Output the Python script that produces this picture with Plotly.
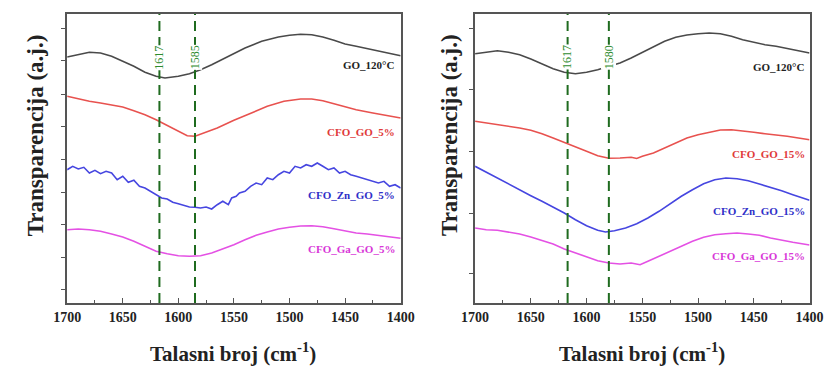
import plotly.graph_objects as go

# ---------------- data (arbitrary transmittance units) ----------------
# Left panel (5%)
L_go_x = [1700,1690,1680,1670,1660,1650,1640,1630,1620,1612,1600,1590,1580,1570,1560,1550,1540,1525,1510,1500,1490,1480,1470,1460,1450,1440,1425,1410,1400]
L_go_y = [246,248.3,250.7,250,246.7,241.7,236.7,230.7,226.7,225,226.7,229.3,233.3,238.3,244,250,255,261.7,266,267.7,268.7,268.3,266,262.7,259,256.7,253.3,250,247.3]

L_cfo_x = [1700,1690,1680,1670,1660,1650,1640,1630,1620,1610,1600,1592,1585,1575,1565,1550,1535,1520,1505,1490,1480,1470,1460,1450,1440,1425,1410,1400]
L_cfo_y = [206.7,204,201.7,200,198.3,196,192.3,188.3,183.3,177.3,171.7,167.3,166.7,170.7,175,182.7,190,196.7,201.7,204,204,202.3,199.3,196,193.3,190,187.3,185]

L_zn_x = [1700,1695,1690,1685,1680,1675,1670,1665,1660,1655,1650,1645,1640,1635,1630,1625,1620,1615,1610,1605,1600,1595,1590,1585,1580,1575,1570,1565,1560,1555,1552,1548,1545,1540,1535,1530,1525,1520,1515,1510,1505,1500,1495,1490,1485,1480,1475,1470,1465,1460,1455,1450,1445,1440,1435,1430,1425,1420,1415,1410,1405,1400]
L_zn_y = [133.3,136.7,134,135.7,130,132.7,129.3,131.7,130,123.3,126.7,120.7,122.7,116.7,115,111.7,108.3,105,104,100.7,99.3,97.3,96,95.7,95,96,94,98.3,101.7,98.3,105,106.7,110,111.7,116.7,120,118.3,125,123.3,128.3,131.7,130,136.7,135,138.3,136.7,140,136.7,133.3,135,130,131.7,128.3,126.7,125,123.3,121.7,120,121.7,116.7,118.3,115]

L_ga_x = [1700,1690,1680,1670,1660,1650,1640,1630,1620,1610,1600,1590,1580,1570,1560,1550,1540,1530,1520,1510,1500,1490,1480,1470,1460,1450,1440,1430,1420,1410,1400]
L_ga_y = [73.3,74,73.3,71.7,69,66,61.7,56.7,51.7,49.3,47.3,46.7,47.3,50,54,58.3,63.3,67.7,71,74,75.7,77,77.3,76.3,74.3,72,70,69,67.7,66,64.7]

# Right panel (15%)
R_go_x = [1700,1690,1680,1670,1660,1650,1640,1630,1620,1610,1600,1590,1580,1570,1560,1550,1540,1530,1520,1510,1500,1490,1480,1470,1460,1450,1440,1430,1420,1410,1400]
R_go_y = [249.3,251,252.3,250.7,248.3,244,239.3,234.3,230.7,229.3,230.7,233.3,236.7,240,245,250.7,256.7,261.7,265.7,268,269.3,270,269.3,266.7,263.3,260.7,258.3,256.7,254.3,252.3,250]

R_cfo_x = [1700,1690,1680,1670,1660,1650,1640,1630,1620,1610,1600,1590,1580,1570,1560,1555,1550,1540,1530,1520,1510,1500,1490,1480,1470,1460,1450,1440,1430,1420,1410,1400]
R_cfo_y = [181.7,180,179,177.3,175,172.7,169.3,165,160.7,156.7,151.7,147.3,144.7,145,145.7,144.5,146.7,150,155,160,165,168.3,171,173,173.3,172.3,170.7,169.3,168.3,166.7,165,163.3]

R_zn_x = [1700,1690,1680,1670,1660,1650,1640,1630,1620,1610,1600,1590,1583,1575,1565,1555,1545,1535,1525,1515,1505,1495,1485,1475,1465,1455,1445,1435,1425,1415,1405,1400]
R_zn_y = [136.7,130.7,125,119.3,113.3,107.3,101.7,96,90,83.3,77.3,72.7,71,72.3,75,79.3,85,91.7,99.3,106.7,113.3,119.3,123.3,125,124.3,122.3,119,115.7,112.3,108.3,104.3,102.7]

R_ga_x = [1700,1690,1680,1670,1660,1650,1640,1630,1620,1610,1600,1590,1580,1570,1560,1552,1545,1535,1525,1515,1505,1495,1485,1475,1465,1455,1445,1435,1425,1415,1400]
R_ga_y = [75,73.3,72.7,71,69,66,62.7,59,54,50,46,42.3,40,39,40,38.3,41.7,46.7,51.7,56.7,61.7,65.7,68.3,69.3,70,69,67.7,65,62.7,60.7,58]

names_left = ["GO_120°C", "CFO_GO_5%", "CFO_Zn_GO_5%", "CFO_Ga_GO_5%"]
names_right = ["GO_120°C", "CFO_GO_15%", "CFO_Zn_GO_15%", "CFO_Ga_GO_15%"]
peaks_left = [1617, 1585]
peaks_right = [1617, 1580]
x_ticks = [1700, 1650, 1600, 1550, 1500, 1450, 1400]
y_ticks_left = [13.3, 45.7, 78.3, 110.7, 144, 176.7, 209, 242.3, 275]
y_ticks_right = [30, 90, 151.7, 213.3, 275]

colors = ["#4a4a4a", "#e8524f", "#4646e0", "#e451e4"]
label_colors = ["#222222", "#e03a3a", "#3030c8", "#d838d8"]

W, H = 839, 367
top_px, bot_px = 14, 303
ydom = [1 - bot_px / H, 1 - top_px / H]
xdom1 = [55 / W, 400 / W]
xdom2 = [477 / W, 823 / W]
YMAX = bot_px - top_px

fig = go.Figure()
left_sets = [(L_go_x, L_go_y), (L_cfo_x, L_cfo_y), (L_zn_x, L_zn_y), (L_ga_x, L_ga_y)]
right_sets = [(R_go_x, R_go_y), (R_cfo_x, R_cfo_y), (R_zn_x, R_zn_y), (R_ga_x, R_ga_y)]
for i, (xs, ys) in enumerate(left_sets):
    fig.add_trace(go.Scatter(x=xs, y=ys, mode="lines", line=dict(color=colors[i], width=1.6),
                             xaxis="x", yaxis="y", showlegend=False, name=names_left[i]))
for i, (xs, ys) in enumerate(right_sets):
    fig.add_trace(go.Scatter(x=xs, y=ys, mode="lines", line=dict(color=colors[i], width=1.6),
                             xaxis="x2", yaxis="y2", showlegend=False, name=names_right[i]))

serif = "Liberation Serif"
ax_common = dict(range=[1700, 1400], tickvals=x_ticks, ticktext=["<b>%d</b>" % t for t in x_ticks],
                 ticks="inside", ticklen=5, tickwidth=1.2,
                 tickcolor="#555", showline=True, linecolor="#555", linewidth=2, mirror=True,
                 showgrid=False, zeroline=False,
                 minor=dict(ticks="inside", dtick=25, tick0=1400, ticklen=3, tickcolor="#555"),
                 tickfont=dict(family=serif, size=14, color="#222"))
fig.update_layout(
    width=W, height=H, margin=dict(l=0, r=0, t=0, b=0),
    plot_bgcolor="white", paper_bgcolor="white",
    xaxis=dict(domain=xdom1, anchor="y", **ax_common),
    xaxis2=dict(domain=xdom2, anchor="y2", **ax_common),
    yaxis=dict(domain=ydom, anchor="x", range=[0, YMAX], tickvals=y_ticks_left, showticklabels=False,
               ticks="outside", ticklen=4, tickcolor="#555", showline=True, linecolor="#555",
               linewidth=2, mirror=True, showgrid=False, zeroline=False),
    yaxis2=dict(domain=ydom, anchor="x2", range=[0, YMAX], tickvals=y_ticks_right, showticklabels=False,
                ticks="outside", ticklen=4, tickcolor="#555", showline=True, linecolor="#555",
                linewidth=2, mirror=True, showgrid=False, zeroline=False),
)

# dashed peak lines + labels
for xr, yr, peaks in [("x", "y", peaks_left), ("x2", "y2", peaks_right)]:
    for p in peaks:
        fig.add_shape(type="line", xref=xr, yref=yr + " domain", x0=p, x1=p, y0=0, y1=1,
                      line=dict(color="#1f6b1f", width=2, dash="10px,6px"))
        fig.add_annotation(x=p, xref=xr, y=0.895, yref=yr + " domain", text=str(p), showarrow=False,
                           textangle=-90, bgcolor="white", borderpad=0,
                           font=dict(family=serif, size=12, color="#2e8b2e"))

# curve labels (right-aligned near right edge)
lab_left_y = [65, 132, 195, 249]
lab_right_y = [67, 154, 211, 256]
for i in range(4):
    fig.add_annotation(x=396 / W, xref="paper", y=1 - lab_left_y[i] / H, yref="paper",
                       text="<b>" + names_left[i] + "</b>", showarrow=False, xanchor="right", yanchor="middle",
                       font=dict(family=serif, size=11, color=label_colors[i]))
    fig.add_annotation(x=820 / W, xref="paper", y=1 - lab_right_y[i] / H, yref="paper",
                       text="<b>" + names_right[i] + "</b>", showarrow=False, xanchor="right", yanchor="middle",
                       font=dict(family=serif, size=11, color=label_colors[i]))

# axis titles
for cx in [227, 650]:
    fig.add_annotation(x=cx / W, xref="paper", y=1 - 352 / H, yref="paper",
                       text="<b>Talasni broj (cm<sup>-1</sup>)</b>", showarrow=False,
                       xanchor="center", yanchor="middle",
                       font=dict(family=serif, size=21, color="#222"))
for cx in [22, 450]:
    fig.add_annotation(x=cx / W, xref="paper", y=1 - 135 / H, yref="paper",
                       text="<b>Transparencija (a.j.)</b>", showarrow=False, textangle=-90,
                       xanchor="center", yanchor="middle",
                       font=dict(family=serif, size=23, color="#222"))

fig.write_html("out.html")
